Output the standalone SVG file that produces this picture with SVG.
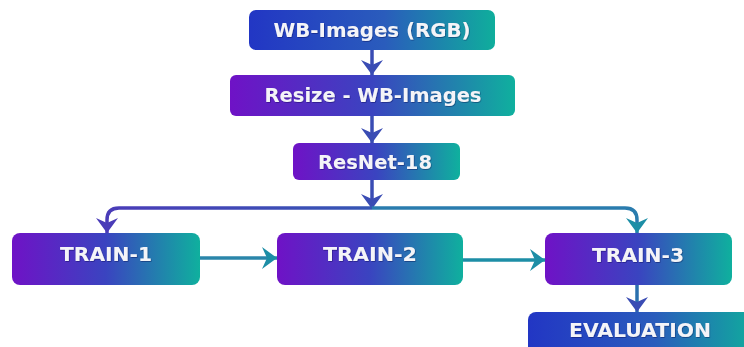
<svg xmlns="http://www.w3.org/2000/svg" width="744" height="347" viewBox="0 0 744 347">
  <defs>
    <linearGradient id="gBlue" x1="0" y1="0" x2="1" y2="0">
      <stop offset="0" stop-color="#2236c4"/>
      <stop offset="0.55" stop-color="#2a5cbc"/>
      <stop offset="1" stop-color="#0fae9c"/>
    </linearGradient>
    <linearGradient id="gPurple" x1="0" y1="0" x2="1" y2="0">
      <stop offset="0" stop-color="#6f12c6"/>
      <stop offset="0.5" stop-color="#3a44c0"/>
      <stop offset="1" stop-color="#0fb09e"/>
    </linearGradient>
    <linearGradient id="gLine" x1="107" y1="0" x2="637" y2="0" gradientUnits="userSpaceOnUse">
      <stop offset="0" stop-color="#4a3cb8"/>
      <stop offset="0.5" stop-color="#3556b4"/>
      <stop offset="1" stop-color="#1a94a4"/>
    </linearGradient>
    <marker id="ahBlue" viewBox="0 0 15 22" refX="15" refY="11" markerWidth="15" markerHeight="22" markerUnits="userSpaceOnUse" orient="auto">
      <path d="M0,0 L15,11 L0,22 L5,11 Z" fill="#3a4cb4"/>
    </marker>
    <marker id="ahPurple" viewBox="0 0 15 22" refX="15" refY="11" markerWidth="15" markerHeight="22" markerUnits="userSpaceOnUse" orient="auto">
      <path d="M0,0 L15,11 L0,22 L5,11 Z" fill="#4a3cb8"/>
    </marker>
    <marker id="ahTeal" viewBox="0 0 15 22" refX="15" refY="11" markerWidth="15" markerHeight="22" markerUnits="userSpaceOnUse" orient="auto">
      <path d="M0,0 L15,11 L0,22 L5,11 Z" fill="#1d8ea6"/>
    </marker>
    <filter id="soft" x="-10%" y="-30%" width="120%" height="160%">
      <feDropShadow dx="0.6" dy="0.8" stdDeviation="0.6" flood-color="#101040" flood-opacity="0.45"/>
    </filter>
  </defs>
  <style>
    .lbl { font-family: "DejaVu Sans", "Open Sans", sans-serif; font-weight: 700; font-size: 19px; fill: #f4f4f8; text-anchor: middle; dominant-baseline: central; filter: url(#soft); }
    .wire { fill: none; stroke-width: 3.5; }
  </style>

  <!-- connectors -->
  <g id="connectors">
    <line class="wire" x1="372" y1="50" x2="372" y2="75" stroke="#3a4cb4" marker-end="url(#ahBlue)"/>
    <line class="wire" x1="372" y1="116" x2="372" y2="143" stroke="#3a4cb4" marker-end="url(#ahBlue)"/>
    <line class="wire" x1="372" y1="180" x2="372" y2="209" stroke="#3a4cb4" marker-end="url(#ahBlue)"/>
    <path class="wire" d="M372,208 H119 Q107,208 107,220 V233" stroke="url(#gLine)" marker-end="url(#ahPurple)"/>
    <path class="wire" d="M372,208 H625 Q637,208 637,220 V233" stroke="#2a7cae" marker-end="url(#ahTeal)"/>
    <line class="wire" x1="200" y1="258" x2="277" y2="258" stroke="#2a86aa" marker-end="url(#ahTeal)"/>
    <line class="wire" x1="463" y1="260" x2="545" y2="260" stroke="#1d8ea6" marker-end="url(#ahTeal)"/>
    <line class="wire" x1="637" y1="285" x2="637" y2="312" stroke="#2a70ae" marker-end="url(#ahBlue)"/>
  </g>

  <g id="wb-images">
    <rect x="249" y="10" width="246" height="40" rx="7" fill="url(#gBlue)"/>
    <text class="lbl" x="372" y="30" textLength="197" lengthAdjust="spacingAndGlyphs">WB-Images (RGB)</text>
  </g>
  <g id="resize">
    <rect x="230" y="75" width="285" height="41" rx="6" fill="url(#gPurple)"/>
    <text class="lbl" x="373" y="95" textLength="217" lengthAdjust="spacingAndGlyphs">Resize - WB-Images</text>
  </g>
  <g id="resnet">
    <rect x="293" y="143" width="167" height="37" rx="6" fill="url(#gPurple)"/>
    <text class="lbl" x="375" y="162" textLength="114" lengthAdjust="spacingAndGlyphs">ResNet-18</text>
  </g>
  <g id="train-1">
    <rect x="12" y="233" width="188" height="52" rx="8" fill="url(#gPurple)"/>
    <text class="lbl" x="106" y="254" textLength="92" lengthAdjust="spacingAndGlyphs">TRAIN-1</text>
  </g>
  <g id="train-2">
    <rect x="277" y="233" width="186" height="52" rx="8" fill="url(#gPurple)"/>
    <text class="lbl" x="370" y="254" textLength="94" lengthAdjust="spacingAndGlyphs">TRAIN-2</text>
  </g>
  <g id="train-3">
    <rect x="545" y="233" width="187" height="52" rx="8" fill="url(#gPurple)"/>
    <text class="lbl" x="638" y="255" textLength="92" lengthAdjust="spacingAndGlyphs">TRAIN-3</text>
  </g>
  <g id="evaluation">
    <rect x="528" y="312" width="230" height="50" rx="8" fill="url(#gBlue)"/>
    <text class="lbl" x="640" y="330" textLength="142" lengthAdjust="spacingAndGlyphs">EVALUATION</text>
  </g>
</svg>
